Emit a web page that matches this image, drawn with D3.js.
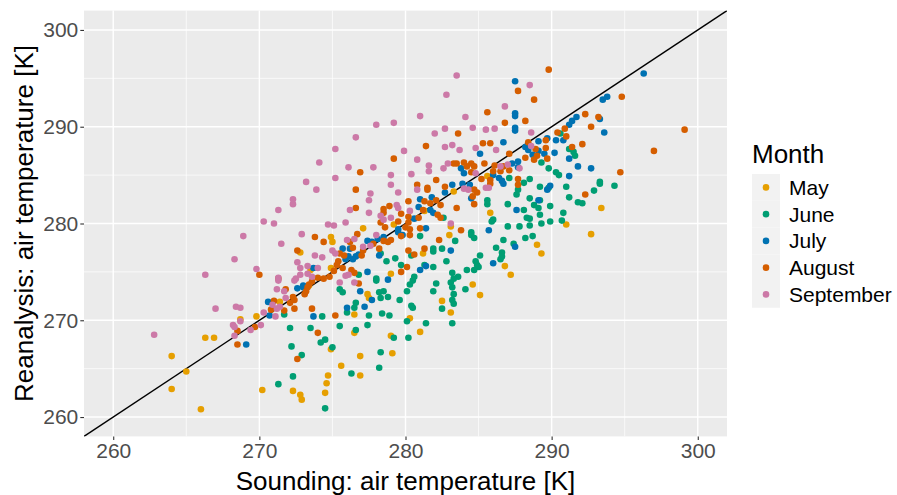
<!DOCTYPE html>
<html>
<head>
<meta charset="utf-8">
<script src="https://cdn.jsdelivr.net/npm/d3@7"></script>
<style>
  body { margin: 0; background: #ffffff; }
  text { font-family: "Liberation Sans", Arial, sans-serif; }
</style>
</head>
<body>
<svg id="chart" width="897" height="495"></svg>
<script>
'use strict';

// Legend categories and their colours (colour-blind palette).
var months = ['May', 'June', 'July', 'August', 'September'];
var monthColours = ['#E69F00', '#009E73', '#0072B2', '#D55E00', '#CC79A7'];

// Axis breaks, same for both axes.
var axisTicks = [260, 270, 280, 290, 300];
var minorTicks = [265, 275, 285, 295];
var axisLimits = [258, 302];

// [sounding, reanalysis] air temperature pairs in K, one list per month.
var may = [
  [293.4, 281.6], [291.0, 279.9], [292.7, 278.9], [274.9, 278.6], [281.3, 281.3],
  [277.1, 279.5], [279.2, 279.9], [283.0, 278.8], [285.6, 284.9], [283.3, 283.3],
  [285.8, 281.1], [283.1, 279.7], [272.8, 277.0], [271.4, 271.9], [269.8, 270.4],
  [268.7, 270.1], [275.0, 278.1], [281.2, 276.9], [273.5, 275.2], [274.9, 275.4],
  [279.0, 274.8], [273.4, 273.6], [277.4, 272.7], [277.5, 272.3], [276.5, 270.6],
  [289.0, 277.8], [289.3, 276.9], [286.8, 275.6], [287.2, 274.7], [284.6, 273.7],
  [285.1, 272.6], [282.5, 272.0], [283.1, 270.8], [264.0, 266.3], [265.0, 264.7],
  [264.0, 262.9], [266.0, 260.8], [266.3, 268.2], [266.9, 268.2], [274.9, 267.0],
  [276.5, 268.7], [279.0, 268.4], [281.0, 268.8], [280.3, 270.2], [275.6, 265.3],
  [276.9, 266.3], [276.9, 264.3], [279.1, 266.6], [274.7, 264.3], [274.6, 263.5],
  [274.5, 262.5], [270.2, 262.8], [272.3, 262.7], [272.8, 262.3], [272.9, 261.8]
];

var june = [
  [290.6, 289.3], [291.2, 287.7], [291.5, 287.4], [291.6, 287.0], [290.5, 285.0],
  [293.3, 284.3], [293.3, 284.1], [294.3, 283.9], [291.0, 283.8], [292.9, 283.4],
  [291.2, 282.7], [291.8, 282.2], [292.1, 282.1], [290.8, 281.1], [290.7, 280.3],
  [282.6, 280.6], [281.0, 278.7], [289.3, 286.3], [289.8, 285.7], [290.3, 285.3],
  [288.5, 284.6], [289.2, 283.8], [289.8, 283.7], [287.1, 284.7], [288.1, 284.2],
  [287.7, 283.5], [287.6, 283.0], [285.6, 282.4], [285.6, 282.0], [287.0, 282.0],
  [288.5, 282.6], [289.2, 282.4], [288.8, 281.9], [289.1, 281.6], [289.9, 281.8],
  [288.1, 281.4], [288.3, 280.6], [288.5, 280.5], [286.0, 280.4], [285.9, 280.2],
  [287.0, 279.7], [287.8, 279.7], [288.5, 279.8], [289.2, 280.9], [289.3, 280.0],
  [289.9, 280.2], [284.5, 279.1], [284.5, 278.8], [278.3, 276.9], [278.7, 276.1],
  [279.3, 276.4], [279.7, 275.7], [280.4, 276.7], [281.3, 275.7], [276.8, 274.7],
  [278.0, 274.3], [278.0, 274.1], [280.6, 274.5], [280.5, 274.1], [280.3, 273.7],
  [275.5, 273.2], [275.7, 272.9], [278.2, 272.9], [278.5, 273.0], [278.8, 272.4],
  [278.3, 272.3], [276.6, 271.8], [276.5, 271.3], [276.0, 270.8], [277.5, 270.5],
  [278.4, 270.7], [278.9, 270.5], [279.6, 272.1], [280.1, 273.0], [280.4, 271.5],
  [280.5, 271.3], [274.3, 270.4], [271.7, 270.6], [281.9, 277.4], [281.9, 277.1],
  [282.5, 277.4], [283.4, 278.2], [284.7, 278.5], [282.8, 276.1], [281.9, 275.5],
  [285.1, 276.7], [284.8, 276.1], [284.9, 275.7], [285.0, 275.5], [284.7, 275.2],
  [284.2, 275.2], [286.7, 278.3], [286.2, 277.5], [286.6, 277.0], [286.6, 276.6],
  [286.5, 276.3], [287.4, 277.9], [288.2, 278.5], [288.7, 278.7], [283.2, 274.9],
  [283.6, 274.5], [283.3, 274.3], [283.1, 273.9], [283.2, 273.4], [283.3, 272.7],
  [283.2, 272.1], [283.3, 271.7], [282.1, 273.8], [281.9, 273.0], [284.1, 273.2],
  [282.5, 271.2], [272.1, 269.2], [273.5, 269.2], [275.5, 269.4], [276.6, 269.0],
  [277.4, 269.5], [280.1, 269.9], [274.2, 267.7], [274.5, 268.0], [275.0, 267.2],
  [272.2, 267.3], [272.9, 266.4], [279.2, 268.2], [280.2, 268.2], [276.3, 264.5],
  [278.2, 265.1], [278.3, 266.7], [272.3, 264.2], [271.3, 263.4], [274.5, 260.9],
  [281.4, 269.7], [283.2, 269.7]
];

var july = [
  [296.3, 295.5], [293.5, 292.8], [293.8, 293.1], [293.3, 290.8], [291.7, 291.0],
  [291.4, 290.6], [291.2, 290.2], [293.6, 289.4], [290.8, 288.6], [291.2, 286.7],
  [291.8, 285.9], [292.7, 285.7], [291.2, 284.9], [287.5, 294.7], [287.5, 291.4],
  [287.5, 291.1], [287.5, 289.9], [287.5, 289.6], [286.7, 288.4], [288.2, 287.9],
  [289.1, 288.5], [289.7, 288.8], [290.3, 288.6], [282.7, 283.2], [281.0, 282.5],
  [281.8, 282.7], [280.9, 281.7], [281.7, 281.4], [281.9, 281.1], [280.6, 280.5],
  [279.5, 279.4], [279.5, 279.1], [279.8, 278.8], [281.4, 279.5], [278.5, 278.6],
  [285.1, 287.2], [288.4, 287.6], [288.7, 287.1], [289.1, 287.5], [289.5, 287.2],
  [290.2, 287.3], [287.7, 286.4], [287.3, 286.2], [287.7, 285.8], [283.8, 285.7],
  [284.0, 285.2], [286.0, 285.0], [286.4, 284.7], [286.6, 284.4], [286.7, 284.1],
  [289.7, 283.5], [289.9, 283.9], [283.2, 284.0], [283.9, 284.1], [284.4, 284.0],
  [284.5, 282.6], [289.1, 282.4], [287.6, 281.4], [285.7, 279.3], [277.4, 278.2],
  [277.7, 278.1], [278.1, 278.4], [276.2, 277.4], [275.7, 277.4], [276.8, 276.8],
  [276.6, 276.6], [276.1, 276.6], [278.2, 276.7], [281.0, 275.2], [281.4, 275.6],
  [275.9, 276.3], [276.4, 276.3], [273.7, 275.4], [277.4, 275.0], [278.8, 274.2],
  [273.0, 273.6], [273.0, 273.4], [276.9, 273.0], [277.7, 272.1], [277.2, 271.4],
  [276.0, 271.3], [273.7, 270.4], [283.1, 277.2], [287.5, 277.6], [286.0, 275.9],
  [272.6, 273.3], [270.6, 271.9], [270.7, 270.5], [269.1, 267.5]
];

var august = [
  [289.8, 295.9], [287.7, 293.7], [288.8, 292.8], [285.6, 291.5], [288.2, 290.6],
  [286.8, 290.4], [283.6, 289.3], [285.3, 288.3], [285.8, 288.3], [281.4, 288.0],
  [288.4, 288.4], [288.9, 287.7], [289.6, 287.8], [289.6, 288.6], [290.4, 289.4],
  [294.8, 293.1], [292.3, 291.3], [293.2, 291.0], [290.9, 289.8], [292.7, 290.0],
  [299.1, 289.7], [291.0, 289.0], [292.1, 288.2], [291.4, 287.9], [297.0, 287.5],
  [294.7, 285.3], [292.3, 283.0], [273.8, 278.6], [279.2, 286.7], [276.9, 285.3],
  [282.1, 284.5], [280.8, 284.0], [281.5, 283.7], [281.5, 283.5], [276.6, 283.5],
  [282.7, 283.8], [280.2, 282.3], [276.6, 281.6], [278.5, 281.5], [278.9, 281.8],
  [281.3, 282.3], [281.7, 282.1], [282.1, 282.4], [282.4, 281.9], [281.2, 281.4],
  [278.5, 281.1], [278.3, 280.1], [279.5, 280.2], [279.7, 281.0], [280.2, 280.7],
  [280.9, 280.6], [282.2, 280.9], [282.4, 280.6], [276.7, 278.9], [278.6, 279.6],
  [280.2, 280.1], [280.0, 279.6], [280.3, 279.4], [281.0, 279.5], [280.3, 278.8],
  [287.1, 287.2], [289.0, 287.0], [288.8, 286.6], [288.2, 286.8], [289.7, 286.7],
  [283.3, 286.2], [283.5, 286.2], [284.0, 286.3], [284.2, 285.9], [284.5, 286.2],
  [284.5, 285.3], [284.7, 285.9], [285.4, 286.2], [286.1, 286.0], [286.7, 285.9],
  [286.0, 285.4], [286.5, 285.4], [287.1, 285.5], [285.2, 284.6], [285.8, 284.5],
  [285.8, 284.1], [287.7, 284.6], [287.7, 284.0], [284.7, 283.5], [284.9, 283.2],
  [284.6, 282.8], [284.7, 282.0], [283.5, 281.6], [283.8, 279.3], [272.6, 277.2],
  [270.0, 274.7], [271.3, 274.3], [271.8, 273.2], [272.3, 272.4], [272.4, 272.1],
  [272.1, 271.8], [272.4, 271.2], [271.0, 272.0], [271.7, 271.0], [270.8, 271.1],
  [276.2, 278.1], [276.4, 277.5], [274.4, 278.1], [275.5, 276.9], [275.8, 276.7],
  [277.1, 277.2], [277.8, 277.9], [278.2, 277.4], [278.5, 278.2], [278.8, 278.1],
  [279.0, 278.3], [279.7, 278.7], [277.0, 276.7], [280.2, 277.2], [280.6, 276.8],
  [281.3, 277.4], [280.1, 275.5], [279.7, 275.0], [275.4, 276.1], [275.3, 275.7],
  [275.7, 275.4], [275.1, 275.1], [274.8, 274.5], [276.3, 275.2], [276.5, 274.9],
  [276.8, 273.8], [274.0, 274.4], [273.6, 274.0], [273.4, 273.7], [273.3, 273.4],
  [274.4, 274.3], [273.1, 272.7], [273.2, 273.0], [273.6, 271.2], [275.2, 270.5],
  [282.3, 278.3], [268.5, 268.9], [268.5, 267.5], [269.7, 269.3], [274.0, 268.7],
  [272.6, 266.0]
];

var september = [
  [275.2, 287.7], [276.6, 288.9], [278.0, 290.2], [279.2, 290.4], [281.0, 291.1],
  [279.9, 287.5], [283.5, 295.3], [288.5, 294.3], [282.8, 293.3], [286.8, 292.1],
  [284.1, 291.0], [282.7, 289.8], [284.6, 289.9], [285.5, 289.7], [286.1, 289.8],
  [282.0, 289.3], [288.6, 289.4], [282.7, 287.9], [283.2, 288.1], [283.7, 287.6],
  [284.8, 287.8], [286.2, 287.6], [288.6, 288.0], [274.1, 286.3], [273.2, 284.3],
  [273.9, 283.5], [272.3, 282.5], [272.3, 282.0], [271.3, 281.4], [270.3, 280.2],
  [271.0, 280.0], [274.7, 279.9], [268.9, 278.7], [272.9, 278.9], [280.8, 286.6],
  [281.6, 286.0], [282.9, 286.2], [282.6, 285.7], [281.6, 285.4], [280.4, 285.1],
  [276.1, 285.8], [277.8, 285.8], [275.2, 284.7], [279.0, 285.0], [279.0, 284.0],
  [280.8, 283.5], [279.5, 283.2], [277.6, 283.1], [277.5, 282.4], [276.2, 281.4],
  [277.5, 281.1], [279.4, 281.9], [279.5, 281.6], [280.3, 281.3], [278.3, 280.8],
  [275.9, 280.1], [275.1, 279.8], [278.5, 280.4], [279.0, 280.6], [278.0, 278.8],
  [283.1, 280.0], [287.8, 285.7], [286.5, 285.9], [287.0, 286.1], [284.8, 285.2],
  [284.0, 283.6], [284.3, 283.5], [285.5, 283.7], [285.7, 283.7], [271.5, 277.9],
  [268.3, 276.3], [272.6, 276.0], [269.8, 275.3], [266.3, 274.7], [271.3, 274.4],
  [271.3, 274.1], [272.5, 274.3], [272.4, 274.1], [272.8, 274.7], [271.2, 273.2],
  [271.7, 273.0], [271.8, 272.3], [271.4, 271.4], [270.9, 271.6], [271.2, 271.2],
  [268.4, 271.4], [268.7, 271.3], [267.0, 271.2], [270.3, 270.8], [271.1, 270.4],
  [276.0, 278.3], [276.5, 278.4], [275.0, 277.2], [275.2, 276.9], [277.1, 277.6],
  [277.6, 277.7], [273.8, 276.7], [274.3, 276.5], [273.3, 275.6], [274.0, 275.4],
  [272.8, 275.4], [275.9, 274.6], [276.1, 274.7], [275.5, 273.9], [276.5, 273.9],
  [273.3, 274.8], [273.6, 274.5], [262.8, 268.5], [268.2, 269.5], [268.3, 269.3],
  [268.7, 269.9], [268.3, 268.4], [269.4, 269.0], [270.1, 269.5]
];

var monthSeries = [may, june, july, august, september];

/**
  Draw the whole scatter plot: panel, grid, identity line,
  points, axes and the legend.
 */
var drawChart = function() {
  var svg = d3.select('#chart');
  var panel = {left: 84, top: 10.6, right: 727, bottom: 436.4};

  var x = d3.scaleLinear()
    .domain(axisLimits)
    .range([panel.left, panel.right]);
  var y = d3.scaleLinear()
    .domain(axisLimits)
    .range([panel.bottom, panel.top]);
  var colour = d3.scaleOrdinal()
    .domain(months)
    .range(monthColours);

  // Grey panel background.
  svg.append('rect')
    .attr('x', panel.left)
    .attr('y', panel.top)
    .attr('width', panel.right - panel.left)
    .attr('height', panel.bottom - panel.top)
    .attr('fill', '#EBEBEB');

  svg.append('clipPath')
    .attr('id', 'panel-clip')
    .append('rect')
    .attr('x', panel.left)
    .attr('y', panel.top)
    .attr('width', panel.right - panel.left)
    .attr('height', panel.bottom - panel.top);

  var grid = svg.append('g').attr('class', 'grid');

  // Minor then major grid lines, both directions.
  [[minorTicks, 0.7], [axisTicks, 1.4]].forEach(function(set) {
    grid.selectAll(null)
      .data(set[0])
      .enter().append('line')
      .attr('x1', function(d) { return x(d); })
      .attr('x2', function(d) { return x(d); })
      .attr('y1', panel.top)
      .attr('y2', panel.bottom)
      .attr('stroke', '#ffffff')
      .attr('stroke-width', set[1]);
    grid.selectAll(null)
      .data(set[0])
      .enter().append('line')
      .attr('y1', function(d) { return y(d); })
      .attr('y2', function(d) { return y(d); })
      .attr('x1', panel.left)
      .attr('x2', panel.right)
      .attr('stroke', '#ffffff')
      .attr('stroke-width', set[1]);
  });

  // One-to-one line.
  svg.append('line')
    .attr('clip-path', 'url(#panel-clip)')
    .attr('x1', x(axisLimits[0]))
    .attr('y1', y(axisLimits[0]))
    .attr('x2', x(axisLimits[1]))
    .attr('y2', y(axisLimits[1]))
    .attr('stroke', '#000000')
    .attr('stroke-width', 1.4);

  // Points, drawn month by month.
  var points = svg.append('g').attr('clip-path', 'url(#panel-clip)');
  monthSeries.forEach(function(data, i) {
    points.selectAll(null)
      .data(data)
      .enter().append('circle')
      .attr('cx', function(d) { return x(d[0]); })
      .attr('cy', function(d) { return y(d[1]); })
      .attr('r', 3.3)
      .attr('fill', colour(months[i]));
  });

  // Axes.
  var xAxis = svg.append('g')
    .attr('transform', 'translate(0,' + panel.bottom + ')')
    .call(d3.axisBottom(x).tickValues(axisTicks).tickSize(3.7).tickPadding(2.5));
  var yAxis = svg.append('g')
    .attr('transform', 'translate(' + panel.left + ',0)')
    .call(d3.axisLeft(y).tickValues(axisTicks).tickSize(3.7).tickPadding(2));

  [xAxis, yAxis].forEach(function(axis) {
    axis.select('.domain').remove();
    axis.selectAll('.tick line')
      .attr('stroke', '#333333')
      .attr('stroke-width', 1.1);
    axis.selectAll('.tick text')
      .attr('fill', '#4D4D4D')
      .style('font-size', '21px')
      .style('font-family', '"Liberation Sans", Arial, sans-serif');
  });

  // Axis titles.
  svg.append('text')
    .attr('x', (panel.left + panel.right) / 2)
    .attr('y', 490)
    .attr('text-anchor', 'middle')
    .style('font-size', '26px')
    .text('Sounding: air temperature [K]');

  svg.append('text')
    .attr('transform', 'translate(33,' + (panel.top + panel.bottom) / 2 + ') rotate(-90)')
    .attr('text-anchor', 'middle')
    .style('font-size', '26px')
    .text('Reanalysis: air temperature [K]');

  // Legend.
  var legend = svg.append('g')
    .attr('transform', 'translate(752,0)');
  legend.append('text')
    .attr('x', 0)
    .attr('y', 163)
    .style('font-size', '26px')
    .text('Month');

  var keyTop = 174,
      keyStep = 26.75,
      keyWidth = 28;
  var items = legend.selectAll('.item')
    .data(months)
    .enter().append('g')
    .attr('class', 'item')
    .attr('transform', function(d, i) {
      return 'translate(0,' + (keyTop + i * keyStep) + ')';
    });
  items.append('rect')
    .attr('width', keyWidth)
    .attr('height', keyStep)
    .attr('fill', '#F2F2F2');
  items.append('circle')
    .attr('cx', keyWidth / 2)
    .attr('cy', keyStep / 2)
    .attr('r', 3.3)
    .attr('fill', function(d) { return colour(d); });
  items.append('text')
    .attr('x', 37)
    .attr('y', keyStep / 2 + 7.5)
    .style('font-size', '21px')
    .text(function(d) { return d; });
};

drawChart();
</script>
</body>
</html>
